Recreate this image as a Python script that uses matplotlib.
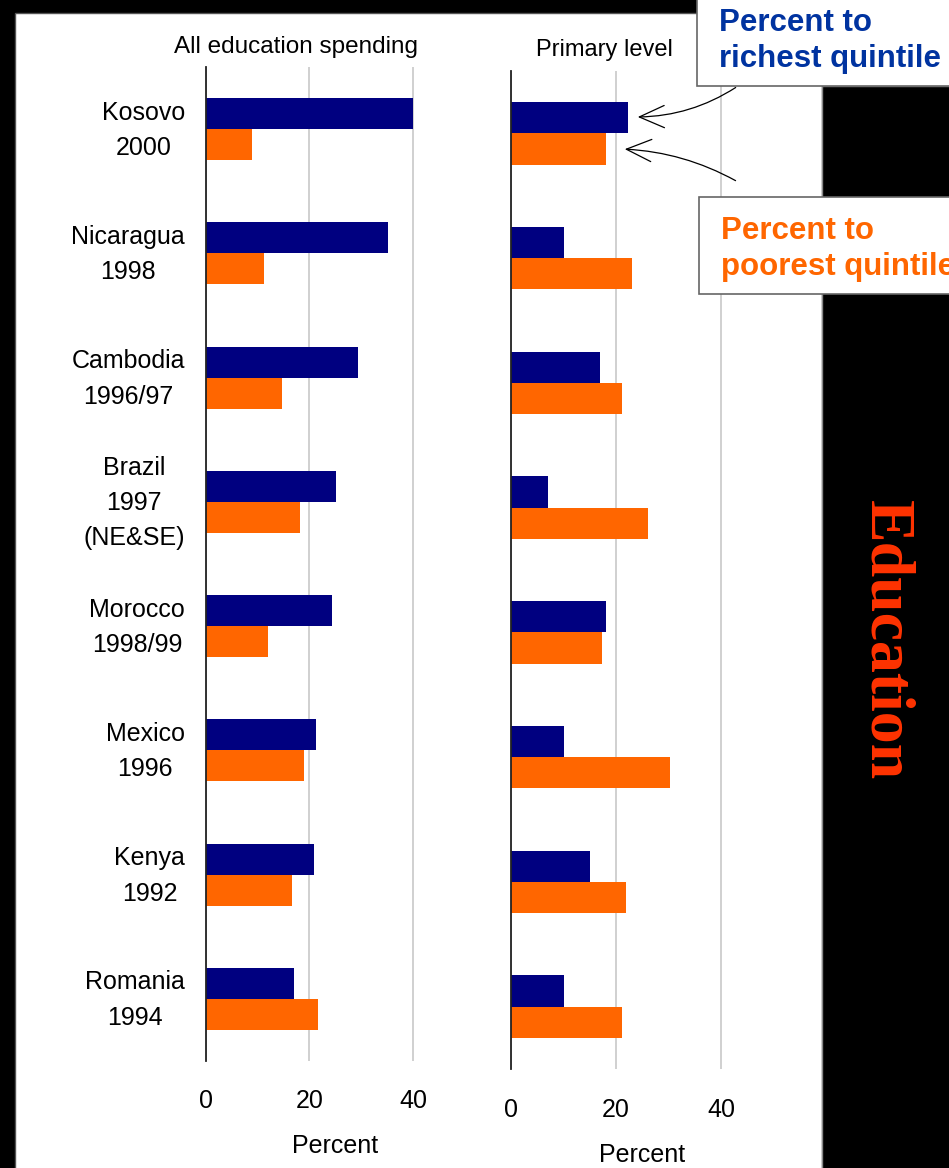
import matplotlib
matplotlib.use("Agg")
import matplotlib.pyplot as plt
import matplotlib.transforms as mtransforms
from matplotlib.patches import Rectangle, FancyArrowPatch
import numpy as np

# Share of public spending captured by the richest and poorest quintiles
countries = ["Kosovo\n2000", "Nicaragua\n1998", "Cambodia\n1996/97", "Brazil\n1997\n(NE&SE)",
             "Morocco\n1998/99", "Mexico\n1996", "Kenya\n1992", "Romania\n1994"]
all_richest = [40.0, 35.2, 29.3, 25.1, 24.3, 21.3, 20.9, 17.0]
all_poorest = [9.0, 11.3, 14.7, 18.2, 12.0, 18.9, 16.6, 21.6]
primary_richest = [22.3, 10.1, 16.9, 7.0, 18.1, 10.1, 15.0, 10.1]
primary_poorest = [18.1, 23.0, 21.1, 26.1, 17.3, 30.3, 21.9, 21.1]
xticks = [0, 20, 40]

NAVY = "#000080"
ORANGE = "#FF6600"
W, H = 949, 1168
FONT = "Liberation Sans"

fig = plt.figure(figsize=(W / 100, H / 100), dpi=100, facecolor="black")


def px(x, y):
    """Pixel position (from top-left) to figure fraction."""
    return x / W, 1 - y / H


def rect(x0, y0, x1, y1, **kw):
    fx, fy = px(x0, y1)
    fig.add_artist(Rectangle((fx, fy), (x1 - x0) / W, (y1 - y0) / H,
                             transform=fig.transFigure, **kw))


# white slide area
rect(15, 13, 822, H + 5, facecolor="white", edgecolor="#555555", lw=1, zorder=0)


def panel(left, top, bottom, width, richest, poorest, labels, tick_pad, label_pad):
    l, b = px(left, bottom)
    ax = fig.add_axes([l, b, width / W, (bottom - top) / H])
    ax.set_facecolor("none")
    y = np.arange(len(richest))
    ax.barh(y - 0.125, richest, height=0.25, color=NAVY, zorder=3)
    ax.barh(y + 0.125, poorest, height=0.25, color=ORANGE, zorder=3)
    ax.set_xlim(0, 50)
    ax.set_ylim(len(richest) - 0.5, -0.5)
    ax.set_xticks(xticks)
    ax.xaxis.grid(True, color="#C8C8C8", lw=1.2, zorder=0)
    ax.set_axisbelow(True)
    for s in ["top", "right", "bottom"]:
        ax.spines[s].set_visible(False)
    ax.spines["left"].set_color("#222222")
    ax.spines["left"].set_linewidth(1.3)
    ax.spines["left"].set_zorder(4)
    ax.tick_params(axis="x", length=0, labelsize=18, pad=tick_pad)
    for t in ax.get_xticklabels():
        t.set_fontfamily(FONT)
    if labels:
        ax.set_yticks(y)
        ax.set_yticklabels(labels, fontsize=18, family=FONT, ha="right",
                           multialignment="center", linespacing=1.6)
        ax.tick_params(axis="y", length=0, pad=15)
        lift = mtransforms.ScaledTranslation(0, 0.07, fig.dpi_scale_trans)
        for t in ax.get_yticklabels():
            t.set_transform(t.get_transform() + lift)
    else:
        ax.set_yticks([])
    ax.set_xlabel("Percent", fontsize=18, family=FONT, labelpad=label_pad)
    return ax


panel(205.7, 67, 1061, 259.5, all_richest, all_poorest, countries, 20, 15)
panel(511.3, 71, 1069, 262, primary_richest, primary_poorest, None, 21, 15)

fig.text(*px(296, 47), "All education spending", fontsize=17.5, family=FONT,
         ha="center", va="center")
fig.text(*px(604, 50), "Primary level", fontsize=17, family=FONT,
         ha="center", va="center")

# right-hand section banner
rect(822, 86, W + 5, H + 5, facecolor="black", edgecolor="#888888", lw=1, zorder=1)
fig.text(*px(885, 640), "Education", fontsize=46, family="Liberation Serif",
         weight="bold", color="#FF3300", rotation=-90, ha="center", va="center",
         zorder=2)

# legend call-outs
rect(697, -5, W + 5, 85.5, facecolor="white", edgecolor="#666666", lw=1.2, zorder=5)
fig.text(*px(719, 41), "Percent to\nrichest quintile", fontsize=22.5, family=FONT,
         weight="bold", color="#0033A0", ha="left", va="center", linespacing=1.3,
         zorder=6)
rect(699, 197, W + 5, 294, facecolor="white", edgecolor="#666666", lw=1.2, zorder=5)
fig.text(*px(721, 249), "Percent to\npoorest quintile", fontsize=22.5, family=FONT,
         weight="bold", color=ORANGE, ha="left", va="center", linespacing=1.3,
         zorder=6)

for start, end, rad in [((738, 86), (635, 117), -0.15), ((738, 182), (622, 149), 0.12)]:
    fig.add_artist(FancyArrowPatch(px(*start), px(*end), transform=fig.transFigure,
                                   arrowstyle="->,head_length=0.9,head_width=0.4",
                                   mutation_scale=20, connectionstyle=f"arc3,rad={rad}",
                                   color="black", lw=0.9, zorder=6))

fig.savefig("out.png", dpi=100, facecolor="black")
